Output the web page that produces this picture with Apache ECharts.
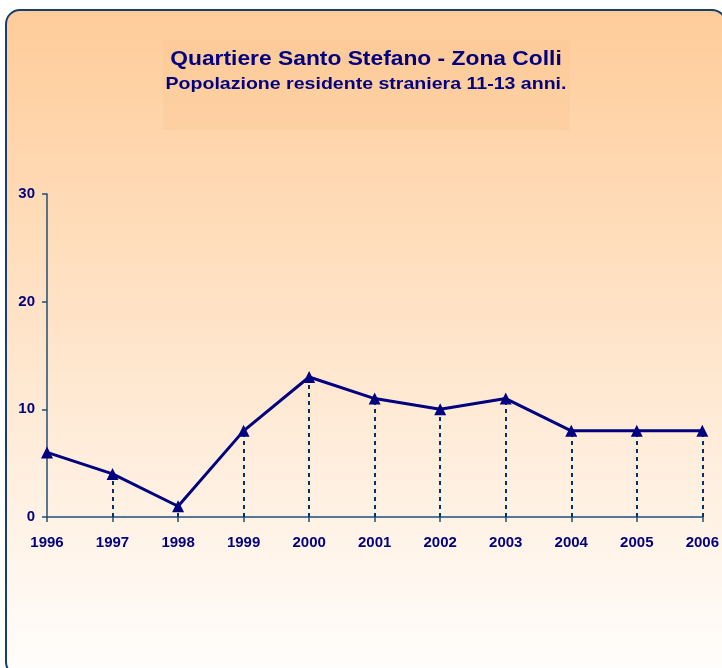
<!DOCTYPE html>
<html>
<head>
<meta charset="utf-8">
<script src="https://cdn.jsdelivr.net/npm/echarts@6/dist/echarts.min.js"></script>
<style>
  html, body { margin: 0; padding: 0; background: #ffffff; }
  #main { width: 722px; height: 668px; }
</style>
</head>
<body>
<div id="main"></div>
<script>
var years = ['1996', '1997', '1998', '1999', '2000', '2001', '2002', '2003', '2004', '2005', '2006'];
var residents = [6, 4, 1, 8, 13, 11, 10, 11, 8, 8, 8];
var yTicks = [0, 10, 20, 30];

var navy = '#000080';
var axisBlue = '#1f4e79';

// dashed drop lines from each point down to the x axis (not the first, it sits on the y axis)
var dropLines = [];
for (var i = 1; i < years.length; i++) {
  dropLines.push([
    { coord: [years[i], 0] },
    { coord: [years[i], residents[i]] }
  ]);
}

var chart = echarts.init(document.getElementById('main'));

var option = {
  backgroundColor: 'transparent',
  textStyle: { fontFamily: 'Liberation Sans, Arial, sans-serif' },
  graphic: [
    {
      type: 'rect',
      z: -10,
      shape: { x: 6, y: 10, width: 720, height: 666, r: 14 },
      style: {
        fill: new echarts.graphic.LinearGradient(0, 0, 0, 1, [
          { offset: 0, color: '#ffcc99' },
          { offset: 1, color: '#fffefd' }
        ]),
        stroke: '#1a3f6f',
        lineWidth: 2
      }
    },
    {
      type: 'rect',
      z: -9,
      shape: { x: 163, y: 40, width: 407, height: 90 },
      style: { fill: 'rgba(248, 190, 135, 0.22)' }
    },
    {
      type: 'text',
      x: 366,
      y: 59,
      scaleX: 1.14,
      style: {
        text: 'Quartiere Santo Stefano - Zona Colli',
        align: 'center',
        verticalAlign: 'middle',
        fill: navy,
        font: 'bold 20px "Liberation Sans", Arial, sans-serif'
      }
    },
    {
      type: 'text',
      x: 366,
      y: 84,
      scaleX: 1.15,
      style: {
        text: 'Popolazione residente straniera 11-13 anni.',
        align: 'center',
        verticalAlign: 'middle',
        fill: navy,
        font: 'bold 17px "Liberation Sans", Arial, sans-serif'
      }
    }
  ],
  grid: { left: 47, right: 19, top: 194, bottom: 151 },
  xAxis: {
    type: 'category',
    data: years,
    boundaryGap: false,
    axisLine: { lineStyle: { color: axisBlue, width: 1.5 } },
    axisTick: { show: true, length: 5, lineStyle: { color: axisBlue, width: 1.5 } },
    axisLabel: { color: navy, fontWeight: 'bold', fontSize: 15, margin: 18, showMaxLabel: true },
    splitLine: { show: false }
  },
  yAxis: {
    type: 'value',
    min: yTicks[0],
    max: yTicks[yTicks.length - 1],
    interval: 10,
    axisLine: { show: true, lineStyle: { color: axisBlue, width: 1.5 } },
    axisTick: { show: true, length: 5, lineStyle: { color: axisBlue, width: 1.5 } },
    axisLabel: { color: navy, fontWeight: 'bold', fontSize: 15, margin: 12 },
    splitLine: { show: false }
  },
  series: [
    {
      type: 'line',
      data: residents,
      symbol: 'triangle',
      symbolSize: 12,
      showAllSymbol: true,
      lineStyle: { color: navy, width: 3 },
      itemStyle: { color: navy },
      z: 5,
      markLine: {
        silent: true,
        symbol: 'none',
        label: { show: false },
        lineStyle: { color: '#003366', width: 2, type: [4, 4] },
        emphasis: { disabled: true },
        data: dropLines
      }
    }
  ]
};

chart.setOption(option);
</script>
</body>
</html>
